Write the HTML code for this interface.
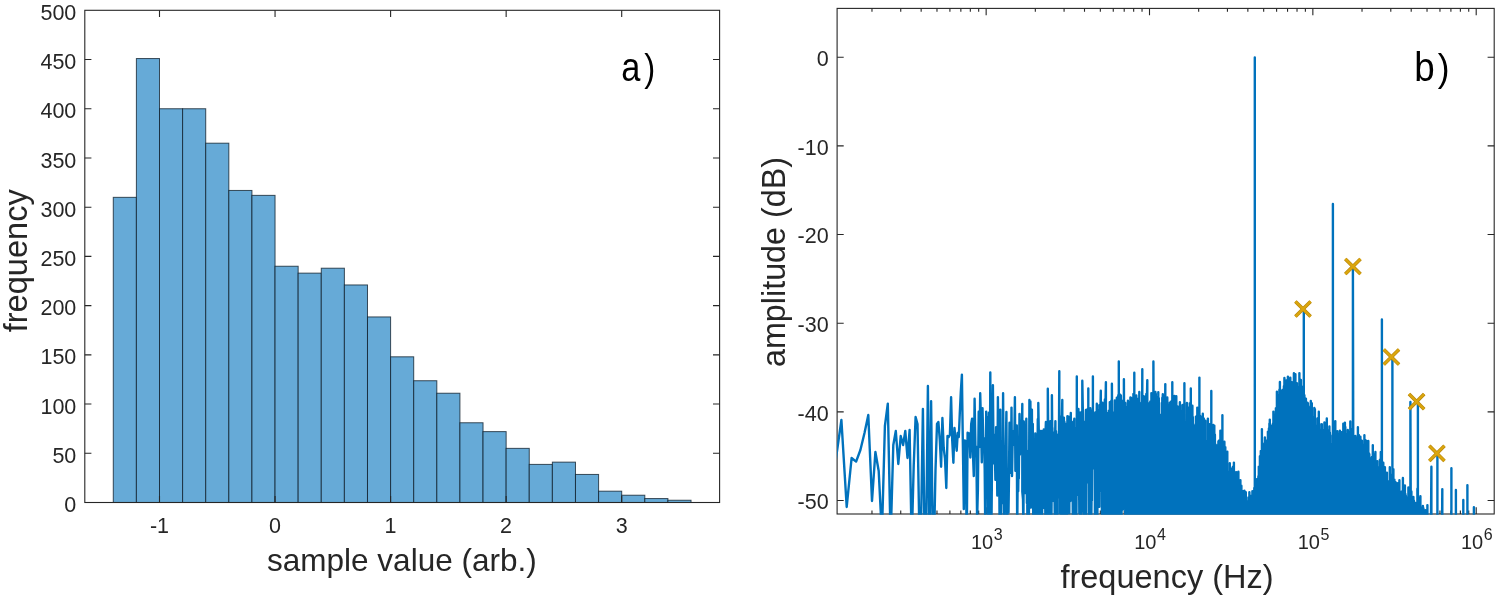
<!DOCTYPE html>
<html lang="en"><head><meta charset="utf-8"><title>Figure: histogram and spectrum</title>
<style>
html,body{margin:0;padding:0;background:#fff;}
svg{display:block;}
.t{font-family:"Liberation Sans",Arial,Helvetica,sans-serif;fill:#262626;}
.tk{font-size:21.5px;}
.lb{font-size:31px;}
.pl{font-family:"Liberation Sans",Arial,sans-serif;fill:#000;font-size:40px;}
</style></head><body>
<svg width="1498" height="600" viewBox="0 0 1498 600">
<rect width="1498" height="600" fill="#fff"/>
<g id="histogram">
<rect x="113.28" y="197.34" width="23.11" height="305.16" fill="#66aad7" stroke="#0b1a26" stroke-opacity="0.75" stroke-width="1"/>
<rect x="136.39" y="58.54" width="23.11" height="443.96" fill="#66aad7" stroke="#0b1a26" stroke-opacity="0.75" stroke-width="1"/>
<rect x="159.50" y="108.74" width="23.11" height="393.76" fill="#66aad7" stroke="#0b1a26" stroke-opacity="0.75" stroke-width="1"/>
<rect x="182.61" y="108.74" width="23.11" height="393.76" fill="#66aad7" stroke="#0b1a26" stroke-opacity="0.75" stroke-width="1"/>
<rect x="205.72" y="143.19" width="23.11" height="359.31" fill="#66aad7" stroke="#0b1a26" stroke-opacity="0.75" stroke-width="1"/>
<rect x="228.83" y="190.45" width="23.11" height="312.05" fill="#66aad7" stroke="#0b1a26" stroke-opacity="0.75" stroke-width="1"/>
<rect x="251.94" y="195.37" width="23.11" height="307.13" fill="#66aad7" stroke="#0b1a26" stroke-opacity="0.75" stroke-width="1"/>
<rect x="275.05" y="266.24" width="23.11" height="236.26" fill="#66aad7" stroke="#0b1a26" stroke-opacity="0.75" stroke-width="1"/>
<rect x="298.16" y="273.13" width="23.11" height="229.37" fill="#66aad7" stroke="#0b1a26" stroke-opacity="0.75" stroke-width="1"/>
<rect x="321.27" y="268.21" width="23.11" height="234.29" fill="#66aad7" stroke="#0b1a26" stroke-opacity="0.75" stroke-width="1"/>
<rect x="344.38" y="284.95" width="23.11" height="217.55" fill="#66aad7" stroke="#0b1a26" stroke-opacity="0.75" stroke-width="1"/>
<rect x="367.49" y="316.94" width="23.11" height="185.56" fill="#66aad7" stroke="#0b1a26" stroke-opacity="0.75" stroke-width="1"/>
<rect x="390.60" y="356.81" width="23.11" height="145.69" fill="#66aad7" stroke="#0b1a26" stroke-opacity="0.75" stroke-width="1"/>
<rect x="413.71" y="380.73" width="23.11" height="121.77" fill="#66aad7" stroke="#0b1a26" stroke-opacity="0.75" stroke-width="1"/>
<rect x="436.82" y="393.23" width="23.11" height="109.27" fill="#66aad7" stroke="#0b1a26" stroke-opacity="0.75" stroke-width="1"/>
<rect x="459.93" y="422.76" width="23.11" height="79.74" fill="#66aad7" stroke="#0b1a26" stroke-opacity="0.75" stroke-width="1"/>
<rect x="483.04" y="431.62" width="23.11" height="70.88" fill="#66aad7" stroke="#0b1a26" stroke-opacity="0.75" stroke-width="1"/>
<rect x="506.15" y="448.36" width="23.11" height="54.14" fill="#66aad7" stroke="#0b1a26" stroke-opacity="0.75" stroke-width="1"/>
<rect x="529.26" y="464.40" width="23.11" height="38.10" fill="#66aad7" stroke="#0b1a26" stroke-opacity="0.75" stroke-width="1"/>
<rect x="552.37" y="462.14" width="23.11" height="40.36" fill="#66aad7" stroke="#0b1a26" stroke-opacity="0.75" stroke-width="1"/>
<rect x="575.48" y="474.44" width="23.11" height="28.06" fill="#66aad7" stroke="#0b1a26" stroke-opacity="0.75" stroke-width="1"/>
<rect x="598.59" y="491.18" width="23.11" height="11.32" fill="#66aad7" stroke="#0b1a26" stroke-opacity="0.75" stroke-width="1"/>
<rect x="621.70" y="495.22" width="23.11" height="7.28" fill="#66aad7" stroke="#0b1a26" stroke-opacity="0.75" stroke-width="1"/>
<rect x="644.81" y="498.56" width="23.11" height="3.94" fill="#66aad7" stroke="#0b1a26" stroke-opacity="0.75" stroke-width="1"/>
<rect x="667.92" y="500.24" width="23.11" height="2.26" fill="#66aad7" stroke="#0b1a26" stroke-opacity="0.75" stroke-width="1"/>
<rect x="84.8" y="10.3" width="634.80" height="492.20" fill="none" stroke="#262626" stroke-width="1.1"/>
<path d="M159.50 502.5v-6.6M159.50 10.3v6.6M275.05 502.5v-6.6M275.05 10.3v6.6M390.60 502.5v-6.6M390.60 10.3v6.6M506.15 502.5v-6.6M506.15 10.3v6.6M621.70 502.5v-6.6M621.70 10.3v6.6M84.8 453.28h6.6M719.6 453.28h-6.6M84.8 404.06h6.6M719.6 404.06h-6.6M84.8 354.84h6.6M719.6 354.84h-6.6M84.8 305.62h6.6M719.6 305.62h-6.6M84.8 256.40h6.6M719.6 256.40h-6.6M84.8 207.18h6.6M719.6 207.18h-6.6M84.8 157.96h6.6M719.6 157.96h-6.6M84.8 108.74h6.6M719.6 108.74h-6.6M84.8 59.52h6.6M719.6 59.52h-6.6" stroke="#262626" stroke-width="1.1" fill="none"/>
<text class="t tk" x="159.5" y="533.1" text-anchor="middle">-1</text>
<text class="t tk" x="275.1" y="533.1" text-anchor="middle">0</text>
<text class="t tk" x="390.6" y="533.1" text-anchor="middle">1</text>
<text class="t tk" x="506.1" y="533.1" text-anchor="middle">2</text>
<text class="t tk" x="621.7" y="533.1" text-anchor="middle">3</text>
<text class="t tk" x="76.3" y="512.0" text-anchor="end">0</text>
<text class="t tk" x="76.3" y="462.8" text-anchor="end">50</text>
<text class="t tk" x="76.3" y="413.6" text-anchor="end">100</text>
<text class="t tk" x="76.3" y="364.3" text-anchor="end">150</text>
<text class="t tk" x="76.3" y="315.1" text-anchor="end">200</text>
<text class="t tk" x="76.3" y="265.9" text-anchor="end">250</text>
<text class="t tk" x="76.3" y="216.7" text-anchor="end">300</text>
<text class="t tk" x="76.3" y="167.5" text-anchor="end">350</text>
<text class="t tk" x="76.3" y="118.2" text-anchor="end">400</text>
<text class="t tk" x="76.3" y="69.0" text-anchor="end">450</text>
<text class="t tk" x="76.3" y="19.8" text-anchor="end">500</text>
<text class="t" font-size="31.5" x="401.9" y="570.7" text-anchor="middle">sample value (arb.)</text>
<text class="t" font-size="32.6" transform="translate(27.3,260.8) rotate(-90)" text-anchor="middle">frequency</text>
<text class="pl" transform="translate(621.3,80.7) scale(0.86,1)">a<tspan dx="4.5" font-size="38.4">)</tspan></text>
</g>
<g id="spectrum">
<rect x="837.1" y="8.4" width="657.10" height="505.60" fill="none" stroke="#262626" stroke-width="1.1"/>
<path d="M871.97 514.0v-3.4M871.97 8.4v3.4M900.74 514.0v-3.4M900.74 8.4v3.4M921.15 514.0v-3.4M921.15 8.4v3.4M936.98 514.0v-3.4M936.98 8.4v3.4M949.91 514.0v-3.4M949.91 8.4v3.4M960.85 514.0v-3.4M960.85 8.4v3.4M970.32 514.0v-3.4M970.32 8.4v3.4M978.68 514.0v-3.4M978.68 8.4v3.4M986.15 514.0v-6.8M986.15 8.4v6.8M1035.32 514.0v-3.4M1035.32 8.4v3.4M1064.09 514.0v-3.4M1064.09 8.4v3.4M1084.50 514.0v-3.4M1084.50 8.4v3.4M1100.33 514.0v-3.4M1100.33 8.4v3.4M1113.26 514.0v-3.4M1113.26 8.4v3.4M1124.20 514.0v-3.4M1124.20 8.4v3.4M1133.67 514.0v-3.4M1133.67 8.4v3.4M1142.03 514.0v-3.4M1142.03 8.4v3.4M1149.50 514.0v-6.8M1149.50 8.4v6.8M1198.67 514.0v-3.4M1198.67 8.4v3.4M1227.44 514.0v-3.4M1227.44 8.4v3.4M1247.85 514.0v-3.4M1247.85 8.4v3.4M1263.68 514.0v-3.4M1263.68 8.4v3.4M1276.61 514.0v-3.4M1276.61 8.4v3.4M1287.55 514.0v-3.4M1287.55 8.4v3.4M1297.02 514.0v-3.4M1297.02 8.4v3.4M1305.38 514.0v-3.4M1305.38 8.4v3.4M1312.85 514.0v-6.8M1312.85 8.4v6.8M1362.02 514.0v-3.4M1362.02 8.4v3.4M1390.79 514.0v-3.4M1390.79 8.4v3.4M1411.20 514.0v-3.4M1411.20 8.4v3.4M1427.03 514.0v-3.4M1427.03 8.4v3.4M1439.96 514.0v-3.4M1439.96 8.4v3.4M1450.90 514.0v-3.4M1450.90 8.4v3.4M1460.37 514.0v-3.4M1460.37 8.4v3.4M1468.73 514.0v-3.4M1468.73 8.4v3.4M1476.20 514.0v-6.8M1476.20 8.4v6.8M837.1 500.50h6.6M1494.2 500.50h-6.6M837.1 411.84h6.6M1494.2 411.84h-6.6M837.1 323.18h6.6M1494.2 323.18h-6.6M837.1 234.52h6.6M1494.2 234.52h-6.6M837.1 145.86h6.6M1494.2 145.86h-6.6M837.1 57.20h6.6M1494.2 57.20h-6.6" stroke="#262626" stroke-width="1.1" fill="none"/>
<clipPath id="cp"><rect x="837.1" y="8.4" width="657.1" height="506.3"/></clipPath>
<path clip-path="url(#cp)" d="M835.7 460.5 841.4 420.0 846.7 507.0 851.6 458.0 856.1 461.6 860.4 450.0 864.5 433.0 868.3 415.0 872.0 501.0 875.4 452.0 878.7 471.0 881.9 535.0 884.9 426.0 887.8 403.6 890.6 540.0 893.3 445.0 895.8 431.0 898.3 464.0 900.7 436.0 903.1 445.0 905.3 431.0 907.5 458.0 909.6 430.0 911.7 544.0 913.7 466.0 915.6 417.0 917.5 424.0 919.4 535.0 921.1 522.0 922.9 409.0 924.6 540.0 926.3 525.0 927.9 386.0 929.5 544.0 931.1 401.3 932.6 527.0 934.1 540.0 935.5 470.0 937.0 424.0 938.4 422.0 939.8 440.0 941.1 466.7 942.4 418.0 943.7 448.0 945.0 458.7 946.3 488.0 947.5 436.0 948.7 437.0 949.9 434.7 951.1 397.3 952.2 440.0 953.4 462.7 954.5 428.0 955.6 440.0 956.7 450.7 957.7 433.0 958.8 437.0 959.8 413.0 960.8 392.0 961.9 374.7 962.8 440.0 963.8 509.0 964.8 440.4 965.7 441.0 966.7 544.0 967.6 432.7 968.5 433.5 969.4 433.4 970.3 457.5 971.2 423.9 972.1 418.6 972.9 452.4 973.8 476.1 974.6 398.7 975.5 451.0 976.3 446.6 977.1 519.8 977.9 489.3 978.7 411.7 979.5 447.0 980.2 393.3 981.0 423.4 981.8 462.3 982.5 408.1 983.3 443.0 984.0 438.1 984.7 470.2 985.4 544.0 986.2 411.6 986.9 469.3 987.6 417.4 988.2 515.7 988.9 412.8 989.6 544.0 990.3 372.5 990.9 537.6 991.6 511.4 992.3 429.7 992.9 385.3 993.6 463.3 994.2 434.8 994.8 447.2 995.4 479.8 996.1 427.1 996.7 432.6 997.3 495.5 997.9 397.3 998.5 450.2 999.1 450.8 999.7 544.0 1000.3 409.8 1000.8 544.0 1001.4 441.6 1002.0 445.1 1002.5 503.1 1003.1 393.3 1003.7 492.3 1004.2 544.0 1004.8 462.1 1005.3 446.7 1005.8 448.1 1006.4 412.0 1006.9 521.7 1007.4 516.8 1008.0 473.6 1008.5 512.4 1009.0 475.9 1009.5 422.8 1010.0 441.9 1010.5 472.9 1011.0 464.1 1011.5 407.6 1012.0 476.1 1012.5 448.1 1013.0 431.3 1013.5 443.8 1014.0 444.7 1014.4 433.5 1014.9 397.3 1015.4 470.7 1015.9 439.0 1016.3 465.8 1016.8 425.4 1017.2 535.2 1017.7 473.6 1018.2 491.2 1018.8 447.3 1018.8 447.3 1018.8 478.6 1018.8 478.6 1019.5 414.0 1019.9 454.6 1020.4 420.8 1020.8 430.9 1021.2 443.8 1021.7 441.3 1022.3 404.0 1022.3 404.0 1022.3 491.7 1022.3 491.7 1023.0 499.5 1023.4 531.5 1023.8 421.4 1024.2 464.8 1024.8 493.1 1024.8 493.1 1024.8 436.0 1024.8 436.0 1025.4 469.8 1025.9 449.6 1026.3 418.7 1026.9 503.0 1026.9 503.0 1026.9 450.8 1026.9 450.8 1027.5 534.8 1027.8 480.2 1028.2 463.9 1028.8 496.2 1028.8 496.2 1028.8 544.0 1028.8 544.0 1029.4 400.0 1029.8 427.2 1030.4 437.2 1030.4 437.2 1030.4 401.4 1030.4 401.4 1030.9 507.5 1031.3 422.5 1031.9 435.9 1031.9 435.9 1031.9 409.7 1031.9 409.7 1032.4 477.6 1032.8 423.9 1033.3 544.0 1033.3 544.0 1033.3 544.0 1033.3 544.0 1033.9 544.0 1034.3 544.0 1034.8 481.2 1034.8 481.2 1034.8 544.0 1034.8 544.0 1035.3 433.4 1035.9 544.0 1035.9 544.0 1035.9 477.4 1035.9 477.4 1036.4 510.5 1036.9 457.4 1036.9 457.4 1036.9 544.0 1036.9 544.0 1037.4 473.5 1037.8 419.1 1038.3 445.9 1038.3 445.9 1038.3 403.0 1038.3 403.0 1038.8 432.5 1039.3 463.6 1039.3 463.6 1039.3 518.0 1039.3 518.0 1039.8 430.6 1040.3 544.0 1040.3 544.0 1040.3 436.7 1040.3 436.7 1040.8 431.5 1041.3 454.3 1041.3 454.3 1041.3 494.0 1041.3 494.0 1041.9 431.0 1041.9 431.0 1041.9 535.8 1041.9 535.8 1042.4 484.4 1042.9 441.1 1042.9 441.1 1042.9 453.8 1042.9 453.8 1043.4 459.7 1043.8 429.5 1043.8 429.5 1043.8 462.4 1043.8 462.4 1044.3 508.1 1044.8 469.6 1044.8 469.6 1044.8 436.5 1044.8 436.5 1045.4 524.6 1045.4 524.6 1045.4 435.9 1045.4 435.9 1045.9 422.0 1046.3 457.8 1046.3 457.8 1046.3 544.0 1046.3 544.0 1046.9 499.3 1046.9 499.3 1046.9 482.7 1046.9 482.7 1047.4 462.7 1047.8 475.2 1047.8 475.2 1047.8 388.7 1047.8 388.7 1048.4 450.9 1048.4 450.9 1048.4 500.3 1048.4 500.3 1048.8 544.0 1049.3 498.7 1049.3 498.7 1049.3 497.9 1049.3 497.9 1049.9 432.3 1049.9 432.3 1049.9 484.8 1049.9 484.8 1050.4 421.1 1050.4 421.1 1050.4 449.6 1050.4 449.6 1050.9 440.6 1051.3 428.7 1051.3 428.7 1051.3 544.0 1051.3 544.0 1051.9 448.4 1051.9 448.4 1051.9 395.3 1051.9 395.3 1052.4 449.6 1052.4 449.6 1052.4 427.8 1052.4 427.8 1052.8 468.5 1053.3 487.9 1053.3 487.9 1053.3 432.5 1053.3 432.5 1053.8 466.6 1053.8 466.6 1053.8 501.0 1053.8 501.0 1054.3 475.2 1054.3 475.2 1054.3 463.8 1054.3 463.8 1054.9 533.8 1054.9 533.8 1054.9 447.8 1054.9 447.8 1055.4 421.3 1055.4 421.3 1055.4 472.5 1055.4 472.5 1056.0 544.0 1056.0 544.0 1056.0 431.3 1056.0 431.3 1056.4 501.9 1056.7 540.9 1056.7 540.9 1056.7 524.5 1056.7 524.5 1057.3 544.0 1057.3 544.0 1057.3 475.6 1057.3 475.6 1057.8 455.4 1057.8 455.4 1057.8 497.3 1057.8 497.3 1058.3 434.4 1058.3 434.4 1058.3 456.1 1058.3 456.1 1058.8 486.1 1058.8 486.1 1058.8 462.3 1058.8 462.3 1059.3 371.2 1059.3 371.2 1059.3 491.3 1059.3 491.3 1059.8 469.9 1059.8 469.9 1059.8 513.4 1059.8 513.4 1060.3 494.7 1060.3 494.7 1060.3 428.2 1060.3 428.2 1060.8 456.8 1060.8 456.8 1060.8 467.4 1060.8 467.4 1061.3 416.4 1061.3 416.4 1061.3 538.8 1061.3 538.8 1061.8 429.4 1061.8 429.4 1061.8 422.4 1061.8 422.4 1062.3 399.9 1062.3 399.9 1062.3 441.3 1062.3 441.3 1062.8 429.2 1062.8 429.2 1062.8 425.7 1062.8 425.7 1063.3 453.5 1063.3 453.5 1063.3 544.0 1063.3 544.0 1063.9 542.4 1063.9 542.4 1063.9 417.7 1063.9 437.2 1064.4 421.7 1064.4 421.7 1064.4 462.1 1064.4 462.1 1064.9 438.8 1064.9 438.8 1064.9 544.0 1064.9 544.0 1065.4 449.7 1065.4 449.7 1065.4 493.4 1065.4 493.4 1065.8 471.2 1065.8 471.2 1065.8 537.1 1065.8 537.1 1066.3 423.7 1066.3 423.7 1066.3 466.5 1066.3 466.5 1066.9 475.8 1066.9 474.6 1066.9 544.0 1066.9 544.0 1067.4 416.2 1067.4 416.2 1067.4 475.6 1067.4 475.6 1067.9 493.6 1067.9 493.6 1067.9 495.3 1067.9 495.3 1068.3 435.5 1068.3 435.5 1068.3 479.1 1068.3 479.1 1068.8 505.8 1068.8 505.8 1068.8 416.7 1068.8 416.7 1069.3 473.2 1069.3 513.4 1069.3 442.0 1069.3 442.0 1069.9 439.1 1069.9 439.1 1069.9 480.4 1069.9 480.4 1070.3 501.1 1070.3 501.1 1070.3 423.3 1070.3 423.3 1070.8 495.7 1070.8 495.7 1070.8 412.9 1070.8 412.9 1071.4 486.2 1071.4 486.2 1071.4 495.7 1071.4 495.7 1071.8 421.6 1071.8 421.6 1071.8 463.5 1071.8 463.5 1072.3 452.3 1072.3 480.4 1072.3 431.1 1072.3 431.1 1072.9 531.6 1072.9 531.6 1072.9 427.2 1072.9 427.2 1073.4 505.1 1073.4 491.4 1073.4 544.0 1073.4 544.0 1073.9 425.0 1073.9 425.0 1073.9 428.2 1073.9 428.2 1074.3 418.7 1074.3 418.7 1074.3 491.6 1074.3 491.6 1074.8 512.9 1074.8 512.9 1074.8 428.1 1074.8 477.1 1075.3 430.5 1075.3 430.5 1075.3 476.9 1075.3 476.9 1075.8 473.9 1075.8 544.0 1075.8 432.0 1075.8 432.0 1076.3 486.4 1076.3 486.4 1076.3 539.5 1076.3 539.5 1076.8 442.0 1076.8 376.4 1076.8 482.7 1076.8 482.7 1077.3 424.4 1077.3 424.4 1077.3 483.6 1077.3 483.6 1077.8 450.9 1077.8 494.8 1077.8 436.2 1077.8 436.2 1078.4 409.0 1078.4 409.0 1078.4 472.0 1078.4 472.0 1078.9 412.2 1078.9 412.2 1078.9 445.0 1078.9 445.0 1079.3 509.5 1079.3 502.8 1079.3 513.3 1079.3 513.3 1079.8 426.9 1079.8 426.9 1079.8 429.4 1079.8 429.4 1080.3 424.8 1080.3 424.8 1080.3 544.0 1080.3 452.4 1080.9 412.4 1080.9 412.4 1080.9 544.0 1080.9 544.0 1081.3 487.6 1081.3 487.6 1081.3 486.5 1081.3 486.5 1081.8 511.5 1081.8 511.5 1081.8 416.1 1081.8 416.1 1082.3 437.0 1082.3 461.5 1082.3 380.7 1082.3 380.7 1082.9 413.7 1082.9 413.7 1082.9 466.1 1082.9 447.6 1083.3 483.4 1083.3 483.4 1083.3 503.9 1083.3 503.9 1083.8 459.5 1083.8 544.0 1083.8 458.3 1083.8 458.3 1084.3 527.1 1084.3 527.1 1084.3 448.2 1084.3 448.2 1084.9 468.7 1084.9 468.7 1084.9 421.8 1084.9 464.8 1085.4 463.1 1085.4 512.5 1085.4 448.6 1085.4 448.6 1085.9 410.0 1085.9 410.0 1085.9 528.7 1085.9 528.7 1086.4 421.6 1086.4 431.9 1086.4 417.8 1086.4 417.8 1086.9 409.7 1086.9 409.7 1086.9 439.9 1086.9 439.9 1087.3 449.3 1087.3 449.3 1087.3 417.9 1087.3 430.8 1087.8 478.3 1087.8 478.3 1087.8 433.7 1087.8 477.1 1088.3 435.8 1088.3 388.4 1088.3 482.7 1088.3 482.7 1088.8 476.1 1088.8 544.0 1088.8 417.2 1088.8 417.2 1089.3 460.8 1089.3 478.8 1089.3 460.1 1089.3 460.1 1089.8 431.9 1089.8 431.9 1089.8 476.0 1089.8 476.0 1090.3 437.7 1090.3 444.4 1090.3 408.3 1090.3 408.3 1090.9 533.1 1090.9 533.1 1090.9 432.9 1090.9 432.9 1091.4 544.0 1091.4 544.0 1091.4 482.3 1091.4 512.1 1091.9 468.5 1091.9 413.6 1091.9 500.6 1091.9 500.6 1092.4 435.8 1092.4 410.4 1092.4 443.8 1092.4 443.8 1092.9 446.9 1092.9 446.9 1092.9 376.4 1092.9 421.6 1093.3 456.5 1093.3 417.7 1093.3 457.4 1093.3 457.4 1093.8 468.3 1093.8 468.3 1093.8 423.9 1093.8 423.9 1094.3 466.9 1094.3 466.9 1094.3 434.0 1094.3 457.7 1094.9 417.4 1094.9 417.4 1094.9 528.4 1094.9 528.4 1095.3 436.3 1095.3 450.7 1095.3 412.4 1095.3 412.4 1095.9 444.6 1095.9 413.1 1095.9 544.0 1095.9 544.0 1096.4 441.2 1096.4 441.2 1096.4 497.1 1096.4 468.4 1096.8 403.7 1096.8 403.7 1096.8 463.5 1096.8 461.8 1097.4 465.7 1097.4 409.9 1097.4 518.3 1097.4 465.5 1097.9 495.3 1097.9 495.3 1097.9 438.7 1097.9 438.7 1098.3 464.7 1098.3 464.7 1098.3 415.7 1098.3 435.2 1098.8 473.9 1098.8 473.9 1098.8 449.2 1098.8 449.2 1099.3 424.7 1099.3 405.1 1099.3 506.8 1099.3 506.8 1099.8 429.0 1099.8 491.6 1099.8 417.5 1099.8 437.1 1100.3 469.0 1100.3 469.0 1100.3 416.6 1100.3 416.6 1100.8 390.7 1100.8 390.7 1100.8 445.8 1100.8 405.5 1101.4 422.7 1101.4 459.8 1101.4 421.1 1101.4 421.1 1101.9 417.3 1101.9 417.3 1101.9 514.1 1101.9 422.1 1102.4 471.2 1102.4 544.0 1102.4 402.8 1102.4 402.8 1102.8 459.0 1102.8 459.0 1102.8 409.4 1102.8 409.4 1103.3 445.9 1103.3 479.4 1103.3 414.7 1103.3 414.7 1103.9 474.5 1103.9 412.2 1103.9 506.2 1103.9 506.2 1104.4 424.0 1104.4 544.0 1104.4 408.5 1104.4 408.5 1104.9 399.4 1104.9 399.4 1104.9 459.9 1104.9 459.9 1105.3 528.8 1105.3 528.8 1105.3 413.7 1105.3 413.7 1105.9 382.2 1105.9 382.2 1105.9 480.2 1105.9 480.2 1106.4 429.4 1106.4 429.4 1106.4 486.4 1106.4 470.8 1106.9 412.9 1106.9 412.9 1106.9 529.0 1106.9 529.0 1107.3 506.4 1107.3 506.4 1107.3 490.3 1107.3 490.3 1107.8 495.0 1107.8 422.3 1107.8 543.7 1107.8 513.7 1108.3 465.8 1108.3 430.1 1108.3 544.0 1108.3 444.5 1108.8 461.6 1108.8 410.8 1108.8 497.1 1108.8 497.1 1109.3 459.7 1109.3 461.8 1109.3 420.9 1109.3 420.9 1109.8 461.5 1109.8 402.1 1109.8 478.5 1109.8 478.5 1110.3 544.0 1110.3 544.0 1110.3 409.7 1110.3 432.8 1110.8 525.7 1110.8 525.7 1110.8 429.6 1110.8 500.1 1111.3 432.3 1111.3 544.0 1111.3 400.8 1111.3 454.9 1111.9 468.4 1111.9 472.9 1111.9 383.8 1111.9 383.8 1112.4 466.7 1112.4 428.3 1112.4 544.0 1112.4 454.8 1112.8 460.5 1112.8 444.3 1112.8 544.0 1112.8 544.0 1113.3 499.5 1113.3 499.5 1113.3 437.5 1113.3 494.8 1113.8 500.6 1113.8 500.6 1113.8 412.4 1113.8 491.4 1114.4 544.0 1114.4 544.0 1114.4 427.6 1114.4 490.4 1114.8 428.1 1114.8 400.5 1114.8 456.1 1114.8 448.5 1115.4 431.2 1115.4 431.2 1115.4 484.3 1115.4 482.0 1115.9 497.6 1115.9 544.0 1115.9 432.3 1115.9 432.3 1116.3 465.8 1116.3 485.6 1116.3 440.6 1116.3 467.1 1116.8 517.6 1116.8 517.6 1116.8 397.8 1116.8 413.7 1117.3 453.4 1117.3 463.5 1117.3 404.2 1117.3 404.2 1117.8 419.0 1117.8 398.1 1117.8 544.0 1117.8 544.0 1118.3 396.3 1118.3 478.3 1118.3 395.1 1118.3 395.1 1118.8 442.3 1118.8 361.5 1118.8 449.8 1118.8 440.3 1119.4 534.6 1119.4 534.6 1119.4 454.2 1119.4 475.7 1119.9 482.1 1119.9 482.1 1119.9 397.1 1119.9 397.1 1120.3 394.6 1120.3 394.6 1120.3 485.8 1120.3 485.8 1120.9 472.4 1120.9 395.8 1120.9 488.8 1120.9 488.8 1121.4 450.8 1121.4 413.4 1121.4 544.0 1121.4 544.0 1121.8 458.2 1121.8 430.7 1121.8 476.6 1121.8 446.2 1122.3 403.3 1122.3 468.6 1122.3 400.9 1122.3 456.2 1122.9 490.1 1122.9 418.4 1122.9 509.5 1122.9 445.8 1123.4 436.8 1123.4 443.3 1123.4 429.3 1123.4 429.3 1123.9 396.8 1123.9 459.4 1123.9 379.2 1123.9 379.2 1124.3 458.4 1124.3 458.4 1124.3 424.3 1124.3 424.3 1124.8 435.6 1124.8 435.6 1124.8 469.5 1124.8 437.6 1125.3 465.5 1125.3 518.9 1125.3 402.9 1125.3 402.9 1125.8 544.0 1125.8 544.0 1125.8 412.3 1125.8 465.5 1126.4 530.2 1126.4 530.2 1126.4 435.3 1126.4 435.3 1126.9 502.8 1126.9 502.8 1126.9 407.0 1126.9 407.0 1127.4 436.7 1127.4 501.0 1127.4 410.9 1127.4 410.9 1127.9 521.9 1127.9 400.8 1127.9 544.0 1127.9 544.0 1128.3 401.9 1128.3 401.9 1128.3 480.2 1128.3 442.2 1128.9 489.4 1128.9 544.0 1128.9 422.7 1128.9 481.2 1129.4 433.5 1129.4 433.5 1129.4 525.4 1129.4 525.4 1129.8 427.5 1129.8 427.5 1129.8 495.2 1129.8 466.9 1130.4 450.6 1130.4 397.4 1130.4 494.7 1130.4 447.3 1130.9 472.0 1130.9 397.8 1130.9 474.3 1130.9 474.3 1131.3 403.3 1131.3 403.3 1131.3 534.9 1131.3 414.4 1131.8 482.8 1131.8 544.0 1131.8 398.3 1131.8 398.3 1132.4 544.0 1132.4 544.0 1132.4 410.2 1132.4 452.2 1132.9 466.8 1132.9 466.8 1132.9 405.6 1132.9 409.2 1133.4 399.8 1133.4 393.9 1133.4 493.2 1133.4 444.5 1133.8 446.3 1133.8 416.6 1133.8 448.8 1133.8 448.8 1134.3 411.7 1134.3 372.7 1134.3 542.2 1134.3 542.2 1134.9 488.4 1134.9 538.8 1134.9 403.7 1134.9 442.4 1135.4 452.3 1135.4 417.4 1135.4 484.4 1135.4 484.4 1135.9 468.9 1135.9 527.3 1135.9 399.0 1135.9 399.0 1136.3 395.4 1136.3 395.4 1136.3 544.0 1136.3 402.9 1136.8 499.7 1136.8 523.7 1136.8 423.5 1136.8 461.6 1137.3 530.8 1137.3 530.8 1137.3 398.6 1137.3 405.7 1137.8 450.4 1137.8 421.3 1137.8 519.7 1137.8 448.6 1138.3 419.4 1138.3 419.4 1138.3 544.0 1138.3 544.0 1138.8 496.0 1138.8 544.0 1138.8 425.3 1138.8 544.0 1139.3 392.0 1139.3 392.0 1139.3 544.0 1139.3 463.4 1139.8 402.6 1139.8 402.6 1139.8 544.0 1139.8 544.0 1140.4 544.0 1140.4 544.0 1140.4 413.4 1140.4 438.8 1140.9 503.8 1140.9 411.1 1140.9 513.7 1140.9 513.7 1141.4 501.8 1141.4 407.4 1141.4 544.0 1141.4 430.3 1141.8 524.5 1141.8 408.5 1141.8 524.5 1141.8 524.5 1142.3 369.2 1142.3 369.2 1142.3 544.0 1142.3 488.7 1142.8 458.8 1142.8 435.9 1142.8 544.0 1142.8 446.7 1143.4 395.9 1143.4 395.9 1143.4 494.9 1143.4 462.4 1143.9 544.0 1143.9 544.0 1143.9 415.9 1143.9 438.0 1144.4 490.3 1144.4 409.1 1144.4 544.0 1144.4 441.9 1144.8 418.2 1144.8 481.4 1144.8 397.0 1144.8 397.0 1145.3 544.0 1145.3 544.0 1145.3 405.1 1145.3 507.6 1145.9 444.3 1145.9 544.0 1145.9 402.7 1145.9 451.0 1146.3 522.8 1146.3 522.8 1146.3 393.9 1146.3 396.9 1146.8 441.3 1146.8 400.1 1146.8 454.4 1146.8 402.1 1147.3 380.2 1147.3 380.2 1147.3 544.0 1147.3 457.0 1147.8 544.0 1147.8 544.0 1147.8 433.8 1147.8 436.7 1148.4 424.7 1148.4 407.1 1148.4 484.3 1148.4 456.0 1148.9 457.0 1148.9 532.8 1148.9 410.6 1148.9 437.4 1149.4 403.1 1149.4 403.1 1149.4 535.0 1149.4 440.2 1149.9 414.1 1149.9 505.2 1149.9 406.5 1149.9 406.5 1150.3 438.0 1150.3 494.8 1150.3 401.4 1150.3 494.2 1150.8 439.2 1150.8 419.1 1150.8 529.9 1150.8 529.9 1151.4 423.0 1151.4 393.1 1151.4 544.0 1151.4 439.0 1151.9 466.0 1151.9 544.0 1151.9 403.8 1151.9 450.6 1152.4 465.2 1152.4 418.5 1152.4 514.1 1152.4 514.1 1152.9 433.0 1152.9 509.5 1152.9 424.9 1152.9 439.1 1153.4 417.9 1153.4 451.0 1153.4 361.5 1153.4 361.5 1153.8 458.8 1153.8 542.3 1153.8 409.6 1153.8 409.6 1154.3 528.3 1154.3 431.2 1154.3 544.0 1154.3 472.0 1154.9 405.7 1154.9 405.7 1154.9 544.0 1154.9 526.8 1155.4 460.7 1155.4 392.0 1155.4 544.0 1155.4 487.5 1155.8 393.8 1155.8 393.8 1155.8 516.4 1155.8 428.4 1156.4 518.5 1156.4 518.5 1156.4 400.9 1156.4 441.2 1156.9 398.2 1156.9 398.2 1156.9 544.0 1156.9 443.2 1157.3 397.0 1157.3 397.0 1157.3 544.0 1157.3 472.2 1157.8 443.8 1157.8 409.3 1157.8 544.0 1157.8 434.7 1158.3 434.3 1158.3 392.3 1158.3 468.1 1158.3 433.7 1158.8 453.0 1158.8 398.2 1158.8 491.8 1158.8 483.0 1159.4 442.4 1159.4 544.0 1159.4 425.4 1159.4 488.3 1159.9 449.6 1159.9 446.4 1159.9 493.2 1159.9 493.2 1160.4 427.1 1160.4 525.0 1160.4 415.0 1160.4 415.0 1160.8 428.7 1160.8 533.7 1160.8 422.2 1160.8 509.8 1161.3 506.9 1161.3 414.4 1161.3 544.0 1161.3 449.4 1161.8 507.6 1161.8 403.0 1161.8 522.4 1161.8 522.4 1162.3 397.7 1162.3 397.7 1162.3 544.0 1162.3 544.0 1162.8 394.3 1162.8 394.3 1162.8 544.0 1162.8 422.4 1163.3 425.7 1163.3 408.7 1163.3 544.0 1163.3 444.5 1163.8 514.3 1163.8 523.5 1163.8 403.3 1163.8 465.0 1164.4 520.7 1164.4 396.9 1164.4 544.0 1164.4 436.8 1164.8 424.7 1164.8 535.6 1164.8 415.5 1164.8 465.4 1165.3 384.1 1165.3 384.1 1165.3 521.4 1165.3 480.1 1165.8 452.1 1165.8 544.0 1165.8 402.5 1165.8 522.0 1166.3 435.5 1166.3 435.5 1166.3 544.0 1166.3 544.0 1166.8 458.0 1166.8 506.9 1166.8 426.5 1166.8 463.5 1167.3 397.4 1167.3 397.4 1167.3 514.2 1167.3 423.7 1167.8 404.8 1167.8 404.8 1167.8 544.0 1167.8 405.5 1168.3 461.4 1168.3 427.6 1168.3 544.0 1168.3 544.0 1168.8 404.9 1168.8 404.9 1168.8 544.0 1168.8 544.0 1169.4 463.2 1169.4 539.7 1169.4 448.7 1169.4 448.7 1169.8 498.8 1169.8 402.6 1169.8 528.1 1169.8 421.5 1170.3 420.7 1170.3 515.7 1170.3 411.6 1170.3 498.3 1170.8 544.0 1170.8 544.0 1170.8 401.7 1170.8 521.6 1171.3 477.1 1171.3 544.0 1171.3 419.6 1171.3 434.3 1171.9 491.4 1171.9 491.4 1171.9 409.8 1171.9 477.2 1172.3 472.6 1172.3 525.6 1172.3 382.2 1172.3 406.7 1172.8 483.3 1172.8 527.5 1172.8 404.1 1172.8 431.2 1173.3 503.5 1173.3 540.3 1173.3 401.9 1173.3 401.9 1173.8 487.1 1173.8 425.6 1173.8 533.1 1173.8 440.9 1174.4 395.9 1174.4 395.9 1174.4 544.0 1174.4 521.7 1174.8 450.4 1174.8 416.8 1174.8 544.0 1174.8 460.3 1175.3 445.7 1175.3 543.8 1175.3 419.0 1175.3 419.0 1175.8 403.7 1175.8 403.7 1175.8 544.0 1175.8 503.4 1176.3 471.0 1176.3 396.2 1176.3 521.1 1176.3 521.1 1176.9 485.4 1176.9 411.4 1176.9 514.7 1176.9 472.7 1177.4 544.0 1177.4 544.0 1177.4 406.2 1177.4 406.8 1177.9 430.4 1177.9 544.0 1177.9 426.6 1177.9 544.0 1178.4 469.9 1178.4 406.9 1178.4 544.0 1178.4 435.7 1178.9 463.9 1178.9 435.1 1178.9 539.9 1178.9 445.0 1179.3 424.2 1179.3 417.0 1179.3 503.6 1179.3 452.8 1179.9 471.7 1179.9 544.0 1179.9 402.3 1179.9 402.3 1180.4 486.0 1180.4 544.0 1180.4 429.0 1180.4 429.0 1180.9 471.3 1180.9 544.0 1180.9 426.4 1180.9 429.6 1181.4 512.6 1181.4 512.6 1181.4 443.9 1181.4 483.4 1181.9 421.4 1181.9 544.0 1181.9 411.4 1181.9 411.4 1182.4 475.3 1182.4 405.1 1182.4 537.2 1182.4 488.8 1182.8 493.8 1182.8 405.0 1182.8 509.1 1182.8 463.8 1183.4 462.5 1183.4 442.9 1183.4 544.0 1183.4 461.2 1183.9 544.0 1183.9 544.0 1183.9 421.9 1183.9 520.6 1184.4 494.9 1184.4 383.3 1184.4 544.0 1184.4 401.4 1184.9 544.0 1184.9 544.0 1184.9 421.9 1184.9 482.7 1185.3 544.0 1185.3 544.0 1185.3 447.1 1185.3 466.4 1185.9 496.0 1185.9 424.9 1185.9 544.0 1185.9 490.0 1186.4 435.7 1186.4 431.5 1186.4 544.0 1186.4 466.4 1186.9 474.1 1186.9 544.0 1186.9 402.9 1186.9 476.9 1187.3 465.1 1187.3 544.0 1187.3 417.0 1187.3 466.7 1187.8 507.2 1187.8 410.0 1187.8 544.0 1187.8 544.0 1188.4 421.0 1188.4 409.5 1188.4 544.0 1188.4 544.0 1188.9 460.5 1188.9 544.0 1188.9 407.4 1188.9 442.8 1189.3 479.6 1189.3 423.9 1189.3 544.0 1189.3 544.0 1189.8 464.0 1189.8 499.7 1189.8 403.1 1189.8 474.2 1190.3 520.4 1190.3 544.0 1190.3 427.0 1190.3 431.3 1190.8 443.8 1190.8 523.3 1190.8 388.4 1190.8 484.6 1191.4 476.8 1191.4 544.0 1191.4 420.2 1191.4 420.2 1191.9 473.3 1191.9 544.0 1191.9 412.8 1191.9 544.0 1192.4 501.7 1192.4 543.4 1192.4 405.8 1192.4 485.2 1192.8 441.1 1192.8 544.0 1192.8 416.9 1192.8 529.3 1193.3 500.4 1193.3 425.8 1193.3 544.0 1193.3 544.0 1193.8 448.8 1193.8 544.0 1193.8 428.3 1193.8 498.0 1194.4 517.0 1194.4 442.2 1194.4 544.0 1194.4 544.0 1194.8 518.8 1194.8 544.0 1194.8 428.8 1194.8 428.8 1195.4 460.7 1195.4 544.0 1195.4 424.5 1195.4 466.4 1195.9 427.6 1195.9 416.6 1195.9 544.0 1195.9 544.0 1196.3 469.1 1196.3 544.0 1196.3 434.1 1196.3 544.0 1196.9 479.0 1196.9 455.2 1196.9 543.9 1196.9 471.4 1197.3 544.0 1197.3 544.0 1197.3 407.6 1197.3 516.5 1197.8 513.7 1197.8 544.0 1197.8 432.6 1197.8 443.6 1198.3 469.4 1198.3 544.0 1198.3 438.0 1198.3 494.0 1198.9 439.5 1198.9 439.5 1198.9 544.0 1198.9 519.6 1199.4 472.9 1199.4 544.0 1199.4 377.6 1199.4 420.2 1199.9 460.3 1199.9 544.0 1199.9 415.7 1199.9 452.6 1200.4 544.0 1200.4 544.0 1200.4 416.8 1200.4 438.0 1200.9 450.6 1200.9 450.6 1200.9 544.0 1200.9 480.7 1201.4 463.1 1201.4 417.0 1201.4 544.0 1201.4 512.8 1201.8 480.0 1201.8 421.2 1201.8 515.1 1201.8 421.8 1202.3 544.0 1202.3 544.0 1202.3 449.5 1202.3 544.0 1202.8 427.6 1202.8 413.7 1202.8 544.0 1202.8 517.6 1203.3 474.3 1203.3 544.0 1203.3 429.0 1203.3 528.0 1203.8 432.7 1203.8 418.4 1203.8 544.0 1203.8 454.2 1204.3 508.6 1204.3 544.0 1204.3 425.5 1204.3 473.6 1204.9 497.9 1204.9 424.5 1204.9 544.0 1204.9 544.0 1205.4 509.9 1205.4 544.0 1205.4 420.8 1205.4 479.4 1205.9 544.0 1205.9 544.0 1205.9 449.7 1205.9 531.0 1206.3 443.4 1206.3 443.4 1206.3 544.0 1206.3 482.2 1206.9 530.8 1206.9 544.0 1206.9 450.3 1206.9 544.0 1207.4 473.1 1207.4 534.7 1207.4 441.1 1207.4 469.1 1207.9 544.0 1207.9 544.0 1207.9 418.6 1207.9 506.5 1208.4 514.5 1208.4 544.0 1208.4 451.7 1208.4 483.0 1208.8 470.5 1208.8 544.0 1208.8 441.1 1208.8 502.6 1209.4 516.4 1209.4 544.0 1209.4 424.3 1209.4 468.2 1209.9 451.2 1209.9 544.0 1209.9 430.0 1209.9 482.0 1210.4 544.0 1210.4 544.0 1210.4 433.5 1210.4 447.3 1210.8 508.5 1210.8 453.5 1210.8 544.0 1210.8 488.7 1211.3 479.3 1211.3 544.0 1211.3 391.0 1211.3 491.3 1211.8 497.6 1211.8 425.6 1211.8 544.0 1211.8 468.0 1212.3 516.1 1212.3 544.0 1212.3 443.0 1212.3 443.0 1212.9 470.5 1212.9 431.6 1212.9 544.0 1212.9 503.7 1213.4 444.1 1213.4 544.0 1213.4 424.9 1213.4 544.0 1213.8 487.5 1213.8 544.0 1213.8 453.2 1213.8 455.4 1214.3 544.0 1214.3 544.0 1214.3 425.6 1214.3 430.7 1214.9 470.4 1214.9 434.7 1214.9 544.0 1214.9 499.5 1215.3 510.8 1215.3 544.0 1215.3 444.2 1215.3 503.6 1215.8 496.1 1215.8 544.0 1215.8 449.7 1215.8 544.0 1216.3 460.5 1216.3 445.1 1216.3 544.0 1216.3 508.3 1216.8 480.7 1216.8 463.2 1216.8 544.0 1216.8 544.0 1217.4 498.5 1217.4 466.9 1217.4 544.0 1217.4 544.0 1217.9 544.0 1217.9 544.0 1217.9 454.4 1217.9 494.1 1218.4 522.5 1218.4 441.4 1218.4 544.0 1218.4 500.7 1218.9 469.1 1218.9 544.0 1218.9 440.6 1218.9 494.8 1219.4 484.7 1219.4 544.0 1219.4 446.2 1219.4 494.3 1219.9 453.5 1219.9 544.0 1219.9 443.6 1219.9 497.2 1220.4 451.3 1220.4 430.6 1220.4 544.0 1220.4 484.2 1220.9 542.8 1220.9 544.0 1220.9 442.8 1220.9 503.3 1221.4 544.0 1221.4 544.0 1221.4 439.9 1221.4 494.5 1221.9 469.9 1221.9 469.9 1221.9 544.0 1221.9 536.1 1222.4 505.2 1222.4 544.0 1222.4 415.3 1222.4 518.7 1222.9 475.1 1222.9 544.0 1222.9 453.5 1222.9 507.8 1223.4 544.0 1223.4 544.0 1223.4 459.9 1223.4 508.7 1223.9 544.0 1223.9 544.0 1223.9 459.3 1223.9 544.0 1224.4 507.9 1224.4 544.0 1224.4 441.8 1224.4 442.2 1224.8 544.0 1224.8 544.0 1224.8 474.4 1224.8 516.7 1225.3 463.2 1225.3 544.0 1225.3 447.1 1225.3 534.0 1225.8 544.0 1225.8 544.0 1225.8 478.7 1225.8 483.2 1226.3 522.7 1226.3 460.7 1226.3 544.0 1226.3 515.7 1226.8 523.1 1226.8 544.0 1226.8 456.1 1226.8 511.9 1227.3 519.0 1227.3 544.0 1227.3 451.6 1227.3 503.9 1227.9 521.5 1227.9 471.8 1227.9 544.0 1227.9 499.2 1228.4 544.0 1228.4 544.0 1228.4 481.2 1228.4 530.6 1228.9 503.6 1228.9 544.0 1228.9 479.6 1228.9 544.0 1229.4 536.1 1229.4 544.0 1229.4 484.4 1229.4 544.0 1229.8 502.3 1229.8 544.0 1229.8 463.2 1229.8 515.3 1230.3 534.2 1230.3 544.0 1230.3 489.4 1230.3 515.4 1230.8 544.0 1230.8 544.0 1230.8 468.4 1230.8 468.4 1231.3 544.0 1231.3 544.0 1231.3 484.4 1231.3 544.0 1231.8 544.0 1231.8 544.0 1231.8 474.4 1231.8 541.2 1232.3 523.7 1232.3 544.0 1232.3 487.4 1232.3 544.0 1232.9 480.9 1232.9 544.0 1232.9 466.8 1232.9 521.3 1233.4 544.0 1233.4 544.0 1233.4 483.4 1233.4 544.0 1233.9 544.0 1233.9 544.0 1233.9 462.6 1233.9 544.0 1234.3 481.3 1234.3 544.0 1234.3 471.7 1234.3 508.8 1234.9 514.5 1234.9 544.0 1234.9 486.4 1234.9 544.0 1235.4 544.0 1235.4 544.0 1235.4 485.7 1235.4 544.0 1235.8 523.0 1235.8 544.0 1235.8 501.5 1235.8 519.7 1236.3 472.3 1236.3 472.3 1236.3 544.0 1236.3 544.0 1236.8 528.4 1236.8 544.0 1236.8 481.6 1236.8 544.0 1237.4 544.0 1237.4 544.0 1237.4 477.4 1237.4 487.7 1237.9 544.0 1237.9 544.0 1237.9 495.2 1237.9 544.0 1238.4 493.7 1238.4 544.0 1238.4 471.7 1238.4 544.0 1238.9 544.0 1238.9 544.0 1238.9 506.4 1238.9 544.0 1239.4 544.0 1239.4 544.0 1239.4 503.8 1239.4 544.0 1239.9 506.8 1239.9 544.0 1239.9 482.8 1239.9 544.0 1240.4 480.2 1240.4 480.2 1240.4 544.0 1240.4 524.9 1240.9 544.0 1240.9 544.0 1240.9 501.3 1240.9 544.0 1241.4 522.4 1241.4 544.0 1241.4 485.8 1241.4 544.0 1241.8 544.0 1241.8 544.0 1241.8 502.2 1241.8 544.0 1242.3 544.0 1242.3 544.0 1242.3 496.7 1242.3 543.7 1242.9 544.0 1242.9 544.0 1242.9 491.1 1242.9 518.7 1243.4 544.0 1243.4 544.0 1243.4 517.7 1243.4 544.0 1243.9 528.6 1243.9 544.0 1243.9 511.0 1243.9 544.0 1244.4 544.0 1244.4 544.0 1244.4 490.6 1244.4 540.7 1244.9 544.0 1244.9 544.0 1244.9 502.9 1244.9 544.0 1245.4 544.0 1245.4 544.0 1245.4 497.9 1245.4 544.0 1245.8 544.0 1245.8 544.0 1245.8 492.2 1245.8 544.0 1246.3 544.0 1246.3 544.0 1246.3 505.3 1246.3 544.0 1246.9 544.0 1246.9 544.0 1246.9 508.1 1246.9 544.0 1247.4 544.0 1247.4 544.0 1247.4 515.7 1247.4 538.5 1247.9 544.0 1247.9 544.0 1247.9 501.1 1247.9 525.7 1248.4 544.0 1248.4 544.0 1248.4 497.5 1248.4 544.0 1248.9 544.0 1248.9 544.0 1248.9 528.9 1248.9 544.0 1249.4 544.0 1249.4 544.0 1249.4 492.2 1249.4 492.2 1249.9 544.0 1249.9 544.0 1249.9 502.1 1249.9 544.0 1250.4 536.9 1250.4 544.0 1250.4 495.8 1250.4 532.7 1250.9 544.0 1250.9 544.0 1250.9 504.5 1250.9 544.0 1251.3 544.0 1251.3 544.0 1251.3 504.8 1251.3 544.0 1251.9 500.6 1251.9 544.0 1251.9 497.3 1251.9 544.0 1252.4 522.1 1252.4 544.0 1252.4 491.2 1252.4 544.0 1252.9 544.0 1252.9 544.0 1252.9 510.5 1252.9 544.0 1253.3 544.0 1253.3 544.0 1253.3 512.0 1253.3 544.0 1253.8 544.0 1253.8 544.0 1253.8 510.3 1253.8 521.6 1254.3 544.0 1254.3 544.0 1254.3 487.9 1254.3 487.9 1254.8 544.0 1254.8 544.0 1254.8 57.5 1254.8 528.5 1255.3 544.0 1255.3 544.0 1255.3 494.5 1255.3 494.5 1255.8 544.0 1255.8 544.0 1255.8 507.1 1255.8 544.0 1256.4 544.0 1256.4 544.0 1256.4 486.7 1256.4 544.0 1256.9 544.0 1256.9 544.0 1256.9 479.2 1256.9 544.0 1257.4 496.9 1257.4 544.0 1257.4 494.4 1257.4 544.0 1257.9 544.0 1257.9 544.0 1257.9 485.1 1257.9 490.2 1258.4 476.2 1258.4 476.2 1258.4 544.0 1258.4 544.0 1258.8 514.2 1258.8 544.0 1258.8 466.6 1258.8 544.0 1259.3 509.1 1259.3 475.6 1259.3 544.0 1259.3 535.6 1259.9 533.5 1259.9 544.0 1259.9 456.3 1259.9 539.6 1260.4 544.0 1260.4 544.0 1260.4 470.0 1260.4 544.0 1260.8 535.2 1260.8 450.9 1260.8 544.0 1260.8 509.9 1261.3 513.4 1261.3 544.0 1261.3 469.7 1261.3 544.0 1261.9 517.1 1261.9 544.0 1261.9 429.1 1261.9 544.0 1262.4 488.7 1262.4 544.0 1262.4 456.5 1262.4 456.5 1262.8 498.8 1262.8 544.0 1262.8 461.0 1262.8 504.5 1263.3 498.8 1263.3 544.0 1263.3 477.4 1263.3 544.0 1263.8 544.0 1263.8 544.0 1263.8 455.5 1263.8 502.6 1264.3 510.9 1264.3 544.0 1264.3 443.4 1264.3 498.3 1264.9 544.0 1264.9 544.0 1264.9 437.4 1264.9 506.0 1265.4 491.8 1265.4 544.0 1265.4 467.0 1265.4 517.1 1265.8 531.8 1265.8 544.0 1265.8 440.5 1265.8 488.9 1266.3 506.5 1266.3 544.0 1266.3 448.3 1266.3 449.7 1266.9 501.3 1266.9 544.0 1266.9 467.4 1266.9 544.0 1267.4 544.0 1267.4 544.0 1267.4 448.1 1267.4 473.9 1267.9 520.6 1267.9 431.6 1267.9 544.0 1267.9 544.0 1268.4 488.5 1268.4 544.0 1268.4 438.8 1268.4 544.0 1268.9 523.2 1268.9 544.0 1268.9 428.4 1268.9 525.9 1269.4 522.7 1269.4 544.0 1269.4 423.6 1269.4 475.7 1269.8 544.0 1269.8 544.0 1269.8 419.6 1269.8 514.9 1270.3 544.0 1270.3 544.0 1270.3 425.3 1270.3 479.5 1270.8 472.3 1270.8 544.0 1270.8 432.7 1270.8 432.7 1271.3 472.8 1271.3 544.0 1271.3 430.3 1271.3 515.2 1271.8 544.0 1271.8 544.0 1271.8 430.6 1271.8 435.2 1272.4 470.5 1272.4 544.0 1272.4 425.8 1272.4 512.5 1272.9 525.9 1272.9 423.8 1272.9 544.0 1272.9 455.0 1273.4 449.9 1273.4 544.0 1273.4 411.6 1273.4 506.8 1273.9 486.2 1273.9 544.0 1273.9 430.3 1273.9 456.8 1274.4 488.1 1274.4 414.5 1274.4 544.0 1274.4 460.1 1274.9 491.6 1274.9 544.0 1274.9 423.4 1274.9 462.0 1275.4 432.9 1275.4 544.0 1275.4 422.3 1275.4 511.4 1275.9 408.1 1275.9 408.1 1275.9 544.0 1275.9 437.7 1276.4 515.6 1276.4 544.0 1276.4 412.3 1276.4 423.0 1276.9 460.8 1276.9 391.6 1276.9 544.0 1276.9 465.7 1277.4 426.1 1277.4 544.0 1277.4 405.3 1277.4 544.0 1277.9 461.5 1277.9 544.0 1277.9 395.1 1277.9 429.2 1278.4 524.8 1278.4 544.0 1278.4 409.5 1278.4 532.1 1278.9 420.4 1278.9 544.0 1278.9 412.6 1278.9 534.8 1279.4 392.8 1279.4 389.8 1279.4 544.0 1279.4 416.2 1279.9 438.6 1279.9 544.0 1279.9 381.9 1279.9 506.0 1280.4 472.2 1280.4 544.0 1280.4 394.9 1280.4 451.0 1280.9 463.8 1280.9 544.0 1280.9 409.2 1280.9 485.8 1281.3 425.1 1281.3 405.4 1281.3 544.0 1281.3 438.3 1281.9 446.5 1281.9 544.0 1281.9 390.4 1281.9 459.9 1282.3 426.6 1282.3 400.7 1282.3 544.0 1282.3 417.5 1282.8 468.7 1282.8 544.0 1282.8 389.7 1282.8 419.7 1283.4 521.1 1283.4 544.0 1283.4 390.2 1283.4 437.1 1283.9 428.0 1283.9 544.0 1283.9 386.2 1283.9 491.2 1284.4 502.7 1284.4 377.9 1284.4 544.0 1284.4 534.6 1284.9 498.0 1284.9 544.0 1284.9 415.7 1284.9 440.3 1285.3 449.5 1285.3 544.0 1285.3 396.9 1285.3 429.7 1285.8 426.5 1285.8 400.9 1285.8 544.0 1285.8 499.1 1286.4 481.8 1286.4 544.0 1286.4 380.4 1286.4 447.9 1286.9 515.6 1286.9 398.5 1286.9 544.0 1286.9 490.1 1287.4 434.6 1287.4 391.3 1287.4 544.0 1287.4 440.0 1287.9 544.0 1287.9 544.0 1287.9 376.6 1287.9 376.6 1288.3 482.8 1288.3 544.0 1288.3 382.0 1288.3 468.4 1288.8 544.0 1288.8 544.0 1288.8 395.6 1288.8 446.9 1289.3 513.4 1289.3 408.8 1289.3 544.0 1289.3 417.4 1289.8 471.4 1289.8 544.0 1289.8 383.9 1289.8 431.4 1290.3 544.0 1290.3 544.0 1290.3 377.8 1290.3 423.2 1290.8 442.9 1290.8 397.7 1290.8 544.0 1290.8 453.1 1291.3 544.0 1291.3 544.0 1291.3 388.9 1291.3 497.5 1291.9 472.5 1291.9 544.0 1291.9 382.3 1291.9 544.0 1292.4 464.2 1292.4 544.0 1292.4 389.3 1292.4 446.4 1292.8 455.2 1292.8 544.0 1292.8 398.3 1292.8 544.0 1293.3 408.4 1293.3 544.0 1293.3 390.6 1293.3 544.0 1293.9 402.4 1293.9 373.3 1293.9 544.0 1293.9 408.1 1294.3 448.4 1294.3 394.6 1294.3 544.0 1294.3 431.2 1294.8 475.0 1294.8 544.0 1294.8 377.4 1294.8 468.9 1295.4 487.6 1295.4 544.0 1295.4 374.3 1295.4 477.4 1295.8 488.5 1295.8 544.0 1295.8 398.2 1295.8 473.6 1296.3 486.5 1296.3 398.5 1296.3 544.0 1296.3 435.1 1296.9 469.4 1296.9 544.0 1296.9 383.1 1296.9 527.9 1297.4 420.9 1297.4 544.0 1297.4 393.5 1297.4 544.0 1297.8 507.5 1297.8 544.0 1297.8 388.1 1297.8 497.5 1298.4 421.3 1298.4 544.0 1298.4 410.2 1298.4 490.7 1298.9 408.3 1298.9 544.0 1298.9 387.1 1298.9 544.0 1299.4 468.1 1299.4 544.0 1299.4 373.1 1299.4 454.2 1299.9 499.1 1299.9 544.0 1299.9 396.5 1299.9 456.9 1300.4 410.0 1300.4 544.0 1300.4 393.8 1300.4 501.0 1300.9 428.9 1300.9 544.0 1300.9 379.9 1300.9 418.2 1301.3 441.0 1301.3 544.0 1301.3 409.0 1301.3 442.6 1301.8 463.4 1301.8 544.0 1301.8 389.2 1301.8 471.6 1302.3 507.8 1302.3 544.0 1302.3 387.0 1302.3 446.0 1302.8 477.5 1302.8 544.0 1302.8 397.7 1302.8 409.6 1303.3 462.2 1303.3 544.0 1303.3 390.5 1303.3 513.5 1303.8 468.9 1303.8 544.0 1303.8 309.0 1303.8 516.8 1304.4 427.3 1304.4 544.0 1304.4 395.2 1304.4 544.0 1304.9 511.3 1304.9 544.0 1304.9 407.2 1304.9 437.0 1305.4 435.2 1305.4 544.0 1305.4 404.1 1305.4 494.6 1305.9 433.7 1305.9 544.0 1305.9 398.6 1305.9 544.0 1306.4 470.0 1306.4 544.0 1306.4 418.4 1306.4 473.3 1306.8 462.0 1306.8 544.0 1306.8 418.2 1306.8 495.6 1307.3 462.2 1307.3 544.0 1307.3 402.6 1307.3 461.3 1307.9 459.3 1307.9 544.0 1307.9 403.3 1307.9 454.6 1308.4 487.1 1308.4 544.0 1308.4 406.4 1308.4 479.0 1308.9 465.2 1308.9 411.9 1308.9 544.0 1308.9 476.0 1309.4 490.5 1309.4 544.0 1309.4 423.5 1309.4 532.9 1309.9 499.6 1309.9 422.1 1309.9 544.0 1309.9 435.5 1310.3 451.4 1310.3 544.0 1310.3 422.3 1310.3 482.3 1310.8 502.1 1310.8 544.0 1310.8 400.9 1310.8 466.4 1311.4 436.8 1311.4 410.5 1311.4 544.0 1311.4 436.1 1311.8 481.0 1311.8 544.0 1311.8 403.2 1311.8 476.8 1312.3 522.4 1312.3 544.0 1312.3 429.4 1312.3 453.2 1312.8 439.0 1312.8 544.0 1312.8 417.1 1312.8 507.6 1313.4 439.9 1313.4 544.0 1313.4 431.0 1313.4 520.7 1313.9 469.5 1313.9 544.0 1313.9 420.8 1313.9 533.6 1314.3 456.9 1314.3 544.0 1314.3 408.0 1314.3 488.0 1314.9 520.2 1314.9 544.0 1314.9 409.2 1314.9 516.4 1315.4 455.4 1315.4 544.0 1315.4 437.9 1315.4 523.1 1315.9 430.2 1315.9 544.0 1315.9 425.7 1315.9 471.7 1316.3 512.2 1316.3 544.0 1316.3 442.4 1316.3 517.0 1316.8 544.0 1316.8 544.0 1316.8 427.5 1316.8 492.4 1317.4 523.2 1317.4 544.0 1317.4 418.4 1317.4 528.1 1317.9 447.0 1317.9 544.0 1317.9 443.7 1317.9 544.0 1318.4 537.1 1318.4 544.0 1318.4 436.2 1318.4 481.2 1318.8 508.5 1318.8 544.0 1318.8 411.8 1318.8 518.2 1319.3 494.4 1319.3 544.0 1319.3 423.7 1319.3 455.1 1319.9 470.0 1319.9 544.0 1319.9 446.4 1319.9 461.2 1320.4 477.8 1320.4 544.0 1320.4 438.6 1320.4 532.8 1320.9 517.6 1320.9 544.0 1320.9 429.7 1320.9 500.2 1321.4 544.0 1321.4 544.0 1321.4 443.6 1321.4 544.0 1321.8 524.4 1321.8 544.0 1321.8 424.3 1321.8 544.0 1322.4 454.2 1322.4 544.0 1322.4 435.1 1322.4 544.0 1322.9 502.1 1322.9 544.0 1322.9 429.9 1322.9 488.6 1323.4 517.4 1323.4 544.0 1323.4 441.6 1323.4 523.5 1323.9 544.0 1323.9 544.0 1323.9 435.9 1323.9 491.2 1324.4 437.1 1324.4 544.0 1324.4 422.5 1324.4 544.0 1324.8 456.9 1324.8 544.0 1324.8 440.0 1324.8 524.1 1325.3 509.6 1325.3 544.0 1325.3 433.9 1325.3 444.2 1325.8 505.6 1325.8 544.0 1325.8 436.5 1325.8 544.0 1326.3 544.0 1326.3 544.0 1326.3 442.7 1326.3 450.1 1326.8 418.5 1326.8 418.5 1326.8 544.0 1326.8 544.0 1327.4 448.2 1327.4 544.0 1327.4 430.2 1327.4 544.0 1327.9 507.0 1327.9 544.0 1327.9 433.6 1327.9 503.4 1328.4 508.2 1328.4 544.0 1328.4 441.4 1328.4 544.0 1328.9 544.0 1328.9 544.0 1328.9 444.0 1328.9 469.4 1329.4 543.8 1329.4 544.0 1329.4 426.4 1329.4 544.0 1329.9 544.0 1329.9 544.0 1329.9 432.8 1329.9 511.5 1330.3 470.5 1330.3 544.0 1330.3 451.6 1330.3 538.9 1330.8 471.5 1330.8 544.0 1330.8 454.7 1330.8 485.3 1331.4 483.1 1331.4 544.0 1331.4 449.2 1331.4 514.3 1331.9 542.3 1331.9 443.9 1331.9 544.0 1331.9 458.1 1332.4 515.9 1332.4 544.0 1332.4 435.4 1332.4 544.0 1332.9 502.2 1332.9 544.0 1332.9 204.0 1332.9 488.5 1333.3 526.3 1333.3 544.0 1333.3 440.1 1333.3 516.8 1333.9 472.0 1333.9 544.0 1333.9 434.8 1333.9 544.0 1334.3 487.7 1334.3 544.0 1334.3 430.9 1334.3 514.6 1334.8 523.1 1334.8 544.0 1334.8 442.9 1334.8 452.3 1335.3 544.0 1335.3 544.0 1335.3 421.1 1335.3 478.2 1335.9 538.4 1335.9 544.0 1335.9 436.1 1335.9 498.2 1336.4 484.2 1336.4 544.0 1336.4 442.8 1336.4 544.0 1336.9 544.0 1336.9 544.0 1336.9 445.6 1336.9 490.0 1337.4 497.2 1337.4 544.0 1337.4 431.2 1337.4 469.9 1337.8 518.2 1337.8 544.0 1337.8 446.5 1337.8 544.0 1338.3 544.0 1338.3 544.0 1338.3 436.8 1338.3 445.2 1338.8 524.8 1338.8 544.0 1338.8 433.8 1338.8 515.2 1339.4 525.9 1339.4 544.0 1339.4 442.3 1339.4 502.7 1339.9 544.0 1339.9 544.0 1339.9 430.8 1339.9 462.8 1340.4 524.8 1340.4 544.0 1340.4 437.6 1340.4 544.0 1340.9 544.0 1340.9 544.0 1340.9 437.6 1340.9 491.8 1341.3 492.4 1341.3 544.0 1341.3 432.3 1341.3 496.1 1341.9 465.3 1341.9 544.0 1341.9 447.7 1341.9 484.8 1342.4 469.5 1342.4 544.0 1342.4 438.4 1342.4 480.2 1342.8 502.7 1342.8 544.0 1342.8 445.0 1342.8 497.1 1343.3 506.8 1343.3 544.0 1343.3 423.6 1343.3 476.3 1343.8 501.4 1343.8 544.0 1343.8 451.9 1343.8 536.7 1344.3 525.5 1344.3 544.0 1344.3 428.0 1344.3 469.7 1344.9 492.6 1344.9 544.0 1344.9 422.8 1344.9 544.0 1345.3 491.5 1345.3 544.0 1345.3 427.0 1345.3 456.2 1345.9 461.5 1345.9 544.0 1345.9 434.2 1345.9 453.6 1346.4 509.9 1346.4 544.0 1346.4 437.6 1346.4 506.6 1346.9 533.6 1346.9 544.0 1346.9 434.6 1346.9 480.9 1347.3 540.8 1347.3 544.0 1347.3 442.2 1347.3 530.1 1347.8 544.0 1347.8 544.0 1347.8 430.0 1347.8 520.4 1348.4 544.0 1348.4 544.0 1348.4 441.8 1348.4 544.0 1348.9 531.1 1348.9 544.0 1348.9 432.2 1348.9 533.8 1349.4 530.4 1349.4 544.0 1349.4 442.3 1349.4 544.0 1349.9 544.0 1349.9 544.0 1349.9 443.7 1349.9 527.2 1350.3 526.5 1350.3 544.0 1350.3 421.5 1350.3 544.0 1350.8 544.0 1350.8 544.0 1350.8 428.9 1350.8 544.0 1351.4 540.4 1351.4 544.0 1351.4 451.4 1351.4 544.0 1351.9 518.4 1351.9 544.0 1351.9 433.9 1351.9 507.2 1352.4 482.0 1352.4 544.0 1352.4 434.3 1352.4 505.1 1352.9 505.8 1352.9 544.0 1352.9 266.5 1352.9 266.5 1353.4 512.7 1353.4 544.0 1353.4 438.0 1353.4 493.9 1353.8 497.0 1353.8 544.0 1353.8 437.9 1353.8 484.3 1354.4 486.0 1354.4 544.0 1354.4 448.6 1354.4 512.9 1354.9 455.2 1354.9 544.0 1354.9 439.3 1354.9 533.1 1355.4 472.1 1355.4 544.0 1355.4 435.9 1355.4 544.0 1355.8 472.6 1355.8 544.0 1355.8 444.5 1355.8 529.0 1356.4 544.0 1356.4 544.0 1356.4 442.8 1356.4 494.6 1356.9 470.2 1356.9 544.0 1356.9 448.8 1356.9 532.0 1357.4 529.1 1357.4 544.0 1357.4 437.8 1357.4 544.0 1357.9 503.5 1357.9 544.0 1357.9 427.2 1357.9 497.0 1358.3 484.4 1358.3 544.0 1358.3 456.1 1358.3 521.7 1358.8 543.6 1358.8 544.0 1358.8 435.0 1358.8 532.5 1359.4 508.0 1359.4 544.0 1359.4 439.5 1359.4 491.9 1359.9 487.0 1359.9 544.0 1359.9 447.2 1359.9 510.5 1360.4 461.3 1360.4 544.0 1360.4 436.8 1360.4 500.2 1360.9 474.1 1360.9 544.0 1360.9 454.5 1360.9 536.6 1361.4 536.8 1361.4 544.0 1361.4 442.3 1361.4 544.0 1361.9 524.1 1361.9 544.0 1361.9 440.7 1361.9 494.5 1362.4 544.0 1362.4 544.0 1362.4 461.2 1362.4 544.0 1362.9 488.2 1362.9 544.0 1362.9 444.7 1362.9 544.0 1363.3 504.4 1363.3 544.0 1363.3 453.7 1363.3 503.3 1363.9 481.6 1363.9 544.0 1363.9 450.6 1363.9 540.8 1364.4 490.3 1364.4 544.0 1364.4 435.3 1364.4 509.4 1364.8 530.2 1364.8 544.0 1364.8 457.8 1364.8 544.0 1365.4 544.0 1365.4 544.0 1365.4 449.5 1365.4 523.3 1365.8 496.9 1365.8 544.0 1365.8 440.4 1365.8 495.5 1366.3 544.0 1366.3 544.0 1366.3 453.0 1366.3 508.8 1366.8 515.9 1366.8 544.0 1366.8 450.7 1366.8 544.0 1367.3 505.7 1367.3 544.0 1367.3 441.3 1367.3 544.0 1367.8 510.6 1367.8 544.0 1367.8 462.6 1367.8 544.0 1368.3 482.3 1368.3 544.0 1368.3 440.9 1368.3 538.9 1368.8 519.0 1368.8 544.0 1368.8 453.2 1368.8 520.9 1369.3 544.0 1369.3 544.0 1369.3 454.1 1369.3 544.0 1369.9 510.4 1369.9 544.0 1369.9 458.1 1369.9 536.9 1370.4 544.0 1370.4 544.0 1370.4 459.7 1370.4 477.8 1370.9 542.7 1370.9 544.0 1370.9 462.3 1370.9 504.3 1371.3 507.2 1371.3 544.0 1371.3 468.3 1371.3 531.9 1371.9 508.1 1371.9 544.0 1371.9 457.0 1371.9 490.1 1372.4 493.3 1372.4 544.0 1372.4 457.4 1372.4 544.0 1372.8 499.4 1372.8 544.0 1372.8 445.2 1372.8 512.4 1373.4 487.1 1373.4 544.0 1373.4 454.3 1373.4 544.0 1373.9 544.0 1373.9 544.0 1373.9 471.2 1373.9 544.0 1374.4 544.0 1374.4 544.0 1374.4 460.3 1374.4 544.0 1374.9 469.4 1374.9 544.0 1374.9 466.7 1374.9 544.0 1375.4 544.0 1375.4 544.0 1375.4 452.0 1375.4 477.6 1375.9 493.9 1375.9 544.0 1375.9 466.5 1375.9 544.0 1376.4 507.2 1376.4 544.0 1376.4 472.1 1376.4 501.7 1376.9 475.6 1376.9 544.0 1376.9 474.8 1376.9 508.6 1377.3 539.0 1377.3 544.0 1377.3 461.1 1377.3 525.7 1377.9 544.0 1377.9 544.0 1377.9 475.3 1377.9 544.0 1378.4 538.3 1378.4 544.0 1378.4 471.5 1378.4 517.0 1378.9 544.0 1378.9 544.0 1378.9 473.6 1378.9 544.0 1379.4 544.0 1379.4 544.0 1379.4 467.3 1379.4 544.0 1379.9 544.0 1379.9 544.0 1379.9 459.7 1379.9 544.0 1380.4 539.6 1380.4 544.0 1380.4 470.5 1380.4 544.0 1380.8 508.7 1380.8 544.0 1380.8 451.9 1380.8 533.2 1381.3 542.9 1381.3 544.0 1381.3 476.0 1381.3 544.0 1381.9 541.8 1381.9 544.0 1381.9 319.4 1381.9 515.8 1382.4 495.9 1382.4 544.0 1382.4 483.0 1382.4 505.8 1382.8 544.0 1382.8 544.0 1382.8 467.0 1382.8 544.0 1383.3 514.9 1383.3 544.0 1383.3 462.7 1383.3 544.0 1383.9 544.0 1383.9 544.0 1383.9 469.0 1383.9 536.5 1384.4 496.7 1384.4 544.0 1384.4 478.6 1384.4 544.0 1384.9 544.0 1384.9 544.0 1384.9 467.3 1384.9 544.0 1385.4 533.1 1385.4 544.0 1385.4 477.8 1385.4 544.0 1385.9 544.0 1385.9 544.0 1385.9 481.4 1385.9 544.0 1386.4 491.8 1386.4 544.0 1386.4 486.9 1386.4 526.4 1386.9 544.0 1386.9 544.0 1386.9 472.6 1386.9 544.0 1387.4 501.2 1387.4 544.0 1387.4 482.4 1387.4 519.0 1387.8 544.0 1387.8 544.0 1387.8 481.1 1387.8 544.0 1388.3 544.0 1388.3 544.0 1388.3 487.5 1388.3 544.0 1388.8 544.0 1388.8 544.0 1388.8 484.5 1388.8 544.0 1389.3 544.0 1389.3 544.0 1389.3 489.5 1389.3 519.8 1389.8 544.0 1389.8 544.0 1389.8 467.3 1389.8 544.0 1390.3 544.0 1390.3 544.0 1390.3 475.5 1390.3 529.0 1390.9 527.2 1390.9 544.0 1390.9 478.6 1390.9 544.0 1391.4 544.0 1391.4 544.0 1391.4 483.6 1391.4 484.5 1391.9 512.4 1391.9 544.0 1391.9 474.8 1391.9 544.0 1392.4 544.0 1392.4 544.0 1392.4 357.0 1392.4 544.0 1392.9 544.0 1392.9 544.0 1392.9 487.9 1392.9 544.0 1393.4 540.0 1393.4 544.0 1393.4 469.2 1393.4 544.0 1393.9 544.0 1393.9 544.0 1393.9 491.2 1393.9 544.0 1394.4 527.7 1394.4 544.0 1394.4 479.6 1394.4 525.5 1394.9 516.4 1394.9 544.0 1394.9 489.7 1394.9 544.0 1395.4 544.0 1395.4 544.0 1395.4 485.8 1395.4 544.0 1395.8 544.0 1395.8 544.0 1395.8 482.5 1395.8 532.2 1396.4 532.9 1396.4 544.0 1396.4 484.6 1396.4 544.0 1396.9 544.0 1396.9 544.0 1396.9 501.6 1396.9 544.0 1397.3 544.0 1397.3 544.0 1397.3 495.7 1397.3 540.3 1397.9 544.0 1397.9 544.0 1397.9 483.2 1397.9 525.9 1398.4 544.0 1398.4 544.0 1398.4 484.8 1398.4 544.0 1398.9 506.6 1398.9 544.0 1398.9 502.8 1398.9 544.0 1399.4 522.6 1399.4 544.0 1399.4 480.3 1399.4 544.0 1399.9 544.0 1399.9 544.0 1399.9 492.3 1399.9 544.0 1400.4 544.0 1400.4 544.0 1400.4 495.1 1400.4 544.0 1400.9 544.0 1400.9 544.0 1400.9 502.8 1400.9 544.0 1401.4 544.0 1401.4 544.0 1401.4 491.8 1401.4 544.0 1401.9 542.9 1401.9 544.0 1401.9 496.8 1401.9 537.4 1402.4 529.7 1402.4 544.0 1402.4 496.8 1402.4 517.1 1402.9 544.0 1402.9 544.0 1402.9 478.0 1402.9 544.0 1403.4 544.0 1403.4 544.0 1403.4 499.4 1403.4 544.0 1403.9 544.0 1403.9 544.0 1403.9 491.4 1403.9 544.0 1404.4 517.4 1404.4 544.0 1404.4 486.8 1404.4 538.6 1404.9 544.0 1404.9 544.0 1404.9 485.4 1404.9 544.0 1405.4 544.0 1405.4 544.0 1405.4 494.0 1405.4 544.0 1405.9 544.0 1405.9 544.0 1405.9 495.9 1405.9 544.0 1406.4 544.0 1406.4 544.0 1406.4 497.7 1406.4 515.5 1406.9 544.0 1406.9 544.0 1406.9 501.5 1406.9 544.0 1407.3 544.0 1407.3 544.0 1407.3 499.5 1407.3 544.0 1407.9 544.0 1407.9 544.0 1407.9 512.2 1407.9 544.0 1408.4 544.0 1408.4 544.0 1408.4 487.5 1408.4 544.0 1408.9 517.8 1408.9 544.0 1408.9 500.9 1408.9 532.9 1409.4 544.0 1409.4 544.0 1409.4 511.3 1409.4 544.0 1409.8 544.0 1409.8 544.0 1409.8 506.1 1409.8 514.5 1410.4 544.0 1410.4 544.0 1410.4 402.0 1410.4 402.0 1410.9 544.0 1410.9 544.0 1410.9 502.8 1410.9 544.0 1411.4 544.0 1411.4 544.0 1411.4 491.5 1411.4 523.8 1411.9 544.0 1411.9 544.0 1411.9 509.8 1411.9 544.0 1412.4 544.0 1412.4 544.0 1412.4 505.1 1412.4 544.0 1412.9 544.0 1412.9 544.0 1412.9 504.6 1412.9 544.0 1413.4 544.0 1413.4 544.0 1413.4 496.9 1413.4 544.0 1413.9 544.0 1413.9 544.0 1413.9 500.8 1413.9 544.0 1414.4 507.7 1414.4 507.7 1414.4 544.0 1414.4 522.5 1414.8 520.2 1414.8 544.0 1414.8 504.3 1414.8 544.0 1415.4 541.2 1415.4 544.0 1415.4 503.0 1415.4 544.0 1415.9 544.0 1415.9 544.0 1415.9 509.3 1415.9 544.0 1416.4 544.0 1416.4 544.0 1416.4 507.5 1416.4 544.0 1416.9 544.0 1416.9 544.0 1416.9 503.3 1416.9 544.0 1417.4 544.0 1417.4 544.0 1417.4 488.7 1417.4 544.0 1417.9 544.0 1417.9 544.0 1417.9 401.6 1417.9 544.0 1418.4 544.0 1418.4 544.0 1418.4 508.5 1418.4 544.0 1418.9 544.0 1418.9 544.0 1418.9 506.2 1418.9 544.0 1419.4 544.0 1419.4 544.0 1419.4 523.0 1419.4 544.0 1419.9 535.0 1419.9 544.0 1419.9 498.1 1419.9 544.0 1420.4 544.0 1420.4 544.0 1420.4 496.3 1420.4 544.0 1420.9 540.5 1420.9 544.0 1420.9 508.1 1420.9 544.0 1421.3 544.0 1421.3 544.0 1421.3 518.2 1421.3 544.0 1421.9 544.0 1421.9 544.0 1421.9 510.2 1421.9 544.0 1422.4 544.0 1422.4 544.0 1422.4 521.7 1422.4 544.0 1422.9 544.0 1422.9 544.0 1422.9 506.0 1422.9 544.0 1423.4 544.0 1423.4 544.0 1423.4 508.2 1423.4 544.0 1423.9 544.0 1423.9 544.0 1423.9 514.8 1423.9 544.0 1424.4 544.0 1424.4 544.0 1424.4 511.6 1424.4 544.0 1424.9 544.0 1424.9 544.0 1424.9 529.2 1424.9 544.0 1425.4 544.0 1425.4 544.0 1425.4 510.1 1425.4 544.0 1425.9 544.0 1425.9 544.0 1425.9 522.1 1425.9 544.0 1426.4 544.0 1426.4 544.0 1426.4 520.8 1426.4 544.0 1426.9 544.0 1426.9 544.0 1426.9 518.6 1426.9 544.0 1427.4 544.0 1427.4 544.0 1427.4 505.1 1427.4 544.0 1427.9 544.0 1427.9 544.0 1427.9 526.9 1427.9 544.0 1428.4 544.0 1428.4 544.0 1428.4 528.8 1428.4 544.0 1428.9 544.0 1428.9 544.0 1428.9 525.8 1428.9 544.0 1429.3 544.0 1429.3 544.0 1429.3 527.1 1429.3 544.0 1429.8 544.0 1429.8 544.0 1429.8 527.1 1429.8 544.0 1430.3 544.0 1430.3 544.0 1430.3 527.1 1430.3 544.0 1430.8 544.0 1430.8 544.0 1430.8 527.1 1430.8 544.0 1431.4 466.7 1431.4 466.7 1431.4 544.0 1431.4 544.0 1431.9 544.0 1431.9 544.0 1431.9 527.1 1431.9 544.0 1432.4 544.0 1432.4 544.0 1432.4 529.0 1432.4 544.0 1432.9 544.0 1432.9 544.0 1432.9 527.1 1432.9 544.0 1433.4 544.0 1433.4 544.0 1433.4 527.1 1433.4 544.0 1433.9 544.0 1433.9 544.0 1433.9 532.3 1433.9 544.0 1434.4 544.0 1434.4 544.0 1434.4 527.1 1434.4 544.0 1434.9 544.0 1434.9 544.0 1434.9 531.9 1434.9 544.0 1435.4 544.0 1435.4 544.0 1435.4 527.1 1435.4 544.0 1435.8 544.0 1435.8 544.0 1435.8 527.1 1435.8 544.0 1436.4 544.0 1436.4 544.0 1436.4 527.1 1436.4 544.0 1436.9 544.0 1436.9 544.0 1436.9 527.1 1436.9 544.0 1437.4 544.0 1437.4 544.0 1437.4 453.3 1437.4 544.0 1437.9 544.0 1437.9 544.0 1437.9 527.1 1437.9 544.0 1438.4 544.0 1438.4 544.0 1438.4 527.1 1438.4 544.0 1438.9 544.0 1438.9 544.0 1438.9 527.1 1438.9 544.0 1439.4 544.0 1439.4 544.0 1439.4 527.1 1439.4 544.0 1439.9 544.0 1439.9 544.0 1439.9 532.1 1439.9 544.0 1440.3 544.0 1440.3 544.0 1440.3 527.1 1440.3 544.0 1440.9 544.0 1440.9 544.0 1440.9 529.7 1440.9 544.0 1441.4 544.0 1441.4 544.0 1441.4 534.6 1441.4 544.0 1441.9 544.0 1441.9 544.0 1441.9 539.2 1441.9 544.0 1442.3 489.1 1442.3 489.1 1442.3 544.0 1442.3 544.0 1442.9 544.0 1442.9 544.0 1442.9 534.6 1442.9 544.0 1443.4 544.0 1443.4 544.0 1443.4 533.9 1443.4 544.0 1443.9 544.0 1443.9 544.0 1443.9 543.9 1443.9 544.0 1444.4 544.0 1444.4 544.0 1444.4 544.0 1444.4 544.0 1444.9 544.0 1444.9 544.0 1444.9 539.2 1444.9 544.0 1445.3 544.0 1445.3 544.0 1445.3 534.2 1445.3 544.0 1445.9 544.0 1445.9 544.0 1445.9 541.3 1445.9 544.0 1446.4 544.0 1446.4 544.0 1446.4 539.3 1446.4 544.0 1446.9 544.0 1446.9 544.0 1446.9 535.3 1446.9 544.0 1447.4 544.0 1447.4 544.0 1447.4 543.1 1447.4 544.0 1447.9 544.0 1447.9 544.0 1447.9 544.0 1447.9 544.0 1448.4 544.0 1448.4 544.0 1448.4 539.0 1448.4 544.0 1448.9 544.0 1448.9 544.0 1448.9 535.8 1448.9 544.0 1449.4 544.0 1449.4 544.0 1449.4 543.6 1449.4 544.0 1449.9 544.0 1449.9 544.0 1449.9 544.0 1449.9 544.0 1450.4 544.0 1450.4 544.0 1450.4 544.0 1450.4 544.0 1450.8 544.0 1450.8 544.0 1450.8 538.9 1450.8 544.0 1451.4 544.0 1451.4 544.0 1451.4 468.3 1451.4 544.0 1451.9 544.0 1451.9 544.0 1451.9 538.0 1451.9 544.0 1452.4 544.0 1452.4 544.0 1452.4 540.3 1452.4 544.0 1452.9 544.0 1452.9 544.0 1452.9 542.0 1452.9 544.0 1453.4 544.0 1453.4 544.0 1453.4 544.0 1453.4 544.0 1453.9 544.0 1453.9 544.0 1453.9 544.0 1453.9 544.0 1454.4 544.0 1454.4 544.0 1454.4 544.0 1454.4 544.0 1454.9 544.0 1454.9 544.0 1454.9 541.8 1454.9 544.0 1455.4 544.0 1455.4 544.0 1455.4 544.0 1455.4 544.0 1455.9 544.0 1455.9 544.0 1455.9 490.0 1455.9 544.0 1456.4 544.0 1456.4 544.0 1456.4 544.0 1456.4 544.0 1456.9 544.0 1456.9 544.0 1456.9 544.0 1456.9 544.0 1457.4 544.0 1457.4 544.0 1457.4 544.0 1457.4 544.0 1457.8 544.0 1457.8 544.0 1457.8 544.0 1457.8 544.0 1458.3 544.0 1458.3 544.0 1458.3 544.0 1458.3 544.0 1458.8 544.0 1458.8 544.0 1458.8 544.0 1458.8 544.0 1459.4 544.0 1459.4 544.0 1459.4 544.0 1459.4 544.0 1459.9 544.0 1459.9 544.0 1459.9 544.0 1459.9 544.0 1460.4 544.0 1460.4 544.0 1460.4 544.0 1460.4 544.0 1460.9 544.0 1460.9 544.0 1460.9 544.0 1460.9 544.0 1461.4 544.0 1461.4 544.0 1461.4 544.0 1461.4 544.0 1461.9 544.0 1461.9 544.0 1461.9 544.0 1461.9 544.0 1462.4 544.0 1462.4 544.0 1462.4 544.0 1462.4 544.0 1462.8 544.0 1462.8 544.0 1462.8 544.0 1462.8 544.0 1463.3 544.0 1463.3 544.0 1463.3 500.0 1463.3 544.0 1463.9 544.0 1463.9 544.0 1463.9 544.0 1463.9 544.0 1464.4 544.0 1464.4 544.0 1464.4 544.0 1464.4 544.0 1464.9 544.0 1464.9 544.0 1464.9 544.0 1464.9 544.0 1465.4 544.0 1465.4 544.0 1465.4 544.0 1465.4 544.0 1465.9 544.0 1465.9 544.0 1465.9 544.0 1465.9 544.0 1466.4 544.0 1466.4 544.0 1466.4 544.0 1466.4 544.0 1466.9 544.0 1466.9 544.0 1466.9 544.0 1466.9 544.0 1467.4 544.0 1467.4 544.0 1467.4 485.1 1467.4 544.0 1467.9 544.0 1467.9 544.0 1467.9 544.0 1467.9 544.0 1468.3 544.0 1468.3 544.0 1468.3 544.0 1468.3 544.0 1468.9 544.0 1468.9 544.0 1468.9 544.0 1468.9 544.0 1469.4 544.0 1469.4 544.0 1469.4 544.0 1469.4 544.0 1469.9 544.0 1469.9 544.0 1469.9 544.0 1469.9 544.0 1470.4 544.0 1470.4 544.0 1470.4 544.0 1470.4 544.0 1470.9 544.0 1470.9 544.0 1470.9 544.0 1470.9 544.0 1471.4 544.0 1471.4 544.0 1471.4 544.0 1471.4 544.0 1471.9 544.0 1471.9 544.0 1471.9 544.0 1471.9 544.0 1472.4 544.0 1472.4 544.0 1472.4 544.0 1472.4 544.0 1472.9 544.0 1472.9 544.0 1472.9 544.0 1472.9 544.0 1473.4 544.0 1473.4 544.0 1473.4 544.0 1473.4 544.0 1473.9 544.0 1473.9 544.0 1473.9 507.3 1473.9 544.0 1474.4 544.0 1474.4 544.0 1474.4 544.0 1474.4 544.0 1474.9 544.0 1474.9 544.0 1474.9 544.0 1474.9 544.0 1475.4 544.0 1475.4 544.0 1475.4 544.0 1475.4 544.0 1475.9 544.0 1475.9 544.0 1475.9 544.0 1475.9 544.0 1476.4 544.0 1476.4 544.0 1476.4 544.0 1476.4 544.0 1476.9 544.0 1476.9 544.0 1476.9 544.0 1476.9 544.0 1477.4 544.0 1477.4 544.0 1477.4 544.0 1477.4 544.0 1477.9 544.0 1477.9 544.0 1477.9 544.0 1477.9 544.0 1478.4 544.0 1478.4 544.0 1478.4 544.0 1478.4 544.0 1478.9 544.0 1478.9 544.0 1478.9 544.0 1478.9 544.0 1479.4 544.0 1479.4 544.0 1479.4 544.0 1479.4 544.0 1479.9 544.0 1479.9 544.0 1479.9 544.0 1479.9 544.0 1480.4 544.0 1480.4 544.0 1480.4 544.0 1480.4 544.0 1480.9 544.0 1480.9 544.0 1480.9 544.0 1480.9 544.0 1481.4 544.0 1481.4 544.0 1481.4 544.0 1481.4 544.0 1481.9 544.0 1481.9 544.0 1481.9 544.0 1481.9 544.0 1482.4 544.0 1482.4 544.0 1482.4 544.0 1482.4 544.0 1482.9 544.0 1482.9 544.0 1482.9 544.0 1482.9 544.0 1483.4 544.0 1483.4 544.0 1483.4 544.0 1483.4 544.0 1483.9 544.0 1483.9 544.0 1483.9 544.0 1483.9 544.0 1484.4 544.0 1484.4 544.0 1484.4 544.0 1484.4 544.0 1484.9 544.0 1484.9 544.0 1484.9 544.0 1484.9 544.0 1485.4 544.0 1485.4 544.0 1485.4 544.0 1485.4 544.0 1485.9 544.0 1485.9 544.0 1485.9 544.0 1485.9 544.0 1486.4 544.0 1486.4 544.0 1486.4 544.0 1486.4 544.0 1486.9 544.0 1486.9 544.0 1486.9 544.0 1486.9 544.0 1487.4 544.0 1487.4 544.0 1487.4 544.0 1487.4 544.0 1487.9 544.0 1487.9 544.0 1487.9 544.0 1487.9 544.0 1488.4 544.0 1488.4 544.0 1488.4 544.0 1488.4 544.0 1488.9 544.0 1488.9 544.0 1488.9 544.0 1488.9 544.0 1489.4 544.0 1489.4 544.0 1489.4 544.0 1489.4 544.0 1489.9 544.0 1489.9 544.0 1489.9 544.0 1489.9 544.0 1490.4 544.0 1490.4 544.0 1490.4 544.0 1490.4 544.0 1490.9 544.0 1490.9 544.0 1490.9 544.0 1490.9 544.0 1491.4 544.0 1491.4 544.0 1491.4 544.0 1491.4 544.0 1491.9 544.0 1491.9 544.0 1491.9 544.0 1491.9 544.0 1492.4 544.0 1492.4 544.0 1492.4 544.0 1492.4 544.0 1492.9 544.0 1492.9 544.0 1492.9 544.0 1492.9 544.0 1493.4 544.0 1493.4 544.0 1493.4 544.0 1493.4 544.0 1493.9 544.0 1493.9 544.0 1493.9 544.0 1493.9 544.0 1494.4 544.0 1494.4 544.0 1494.4 544.0 1494.4 544.0 1494.9 544.0 1494.9 544.0 1494.9 544.0 1494.9 544.0 1495.4 544.0 1495.4 544.0 1495.4 544.0 1495.4 544.0 1495.9 544.0 1495.9 544.0 1495.9 544.0 1495.9 544.0 1496.4 544.0 1496.4 544.0 1496.4 544.0 1496.4 544.0 1496.9 544.0 1496.9 544.0 1496.9 544.0 1496.9 544.0 1497.1 544.0 1497.1 544.0 1497.1 544.0 1497.1 544.0" fill="none" stroke="#0072bd" stroke-width="2.4" stroke-linejoin="round"/>
<path d="M1295.4 301.4l15.2 15.2M1295.4 316.6l15.2 -15.2M1345.3 258.9l15.2 15.2M1345.3 274.1l15.2 -15.2M1383.8 349.4l15.2 15.2M1383.8 364.6l15.2 -15.2M1409.0 394.0l15.2 15.2M1409.0 409.2l15.2 -15.2M1429.3 445.7l15.2 15.2M1429.3 460.9l15.2 -15.2" fill="none" stroke="#b8860b" stroke-width="3.6"/>
<path d="M1295.4 301.4l15.2 15.2M1295.4 316.6l15.2 -15.2M1345.3 258.9l15.2 15.2M1345.3 274.1l15.2 -15.2M1383.8 349.4l15.2 15.2M1383.8 364.6l15.2 -15.2M1409.0 394.0l15.2 15.2M1409.0 409.2l15.2 -15.2M1429.3 445.7l15.2 15.2M1429.3 460.9l15.2 -15.2" fill="none" stroke="#dba60d" stroke-width="2.2"/>
<text class="t tk" x="828.7" y="509.3" text-anchor="end">-50</text>
<text class="t tk" x="828.7" y="420.6" text-anchor="end">-40</text>
<text class="t tk" x="828.7" y="332.0" text-anchor="end">-30</text>
<text class="t tk" x="828.7" y="243.3" text-anchor="end">-20</text>
<text class="t tk" x="828.7" y="154.7" text-anchor="end">-10</text>
<text class="t tk" x="828.7" y="66.0" text-anchor="end">0</text>
<text class="t" font-size="20" x="993.2" y="549.4" text-anchor="end">10</text><text class="t" font-size="16" x="993.7" y="540.1">3</text>
<text class="t" font-size="20" x="1156.5" y="549.4" text-anchor="end">10</text><text class="t" font-size="16" x="1157.0" y="540.1">4</text>
<text class="t" font-size="20" x="1319.9" y="549.4" text-anchor="end">10</text><text class="t" font-size="16" x="1320.4" y="540.1">5</text>
<text class="t" font-size="20" x="1483.2" y="549.4" text-anchor="end">10</text><text class="t" font-size="16" x="1483.7" y="540.1">6</text>
<text class="t" font-size="32.5" x="1167" y="588.4" text-anchor="middle">frequency (Hz)</text>
<text class="t" font-size="32.3" transform="translate(785.3,262) rotate(-90)" text-anchor="middle">amplitude (dB)</text>
<text class="pl" transform="translate(1414.3,80.7) scale(0.92,1)">b<tspan dx="3.2" font-size="38.4">)</tspan></text>
</g>
</svg>
</body></html>
